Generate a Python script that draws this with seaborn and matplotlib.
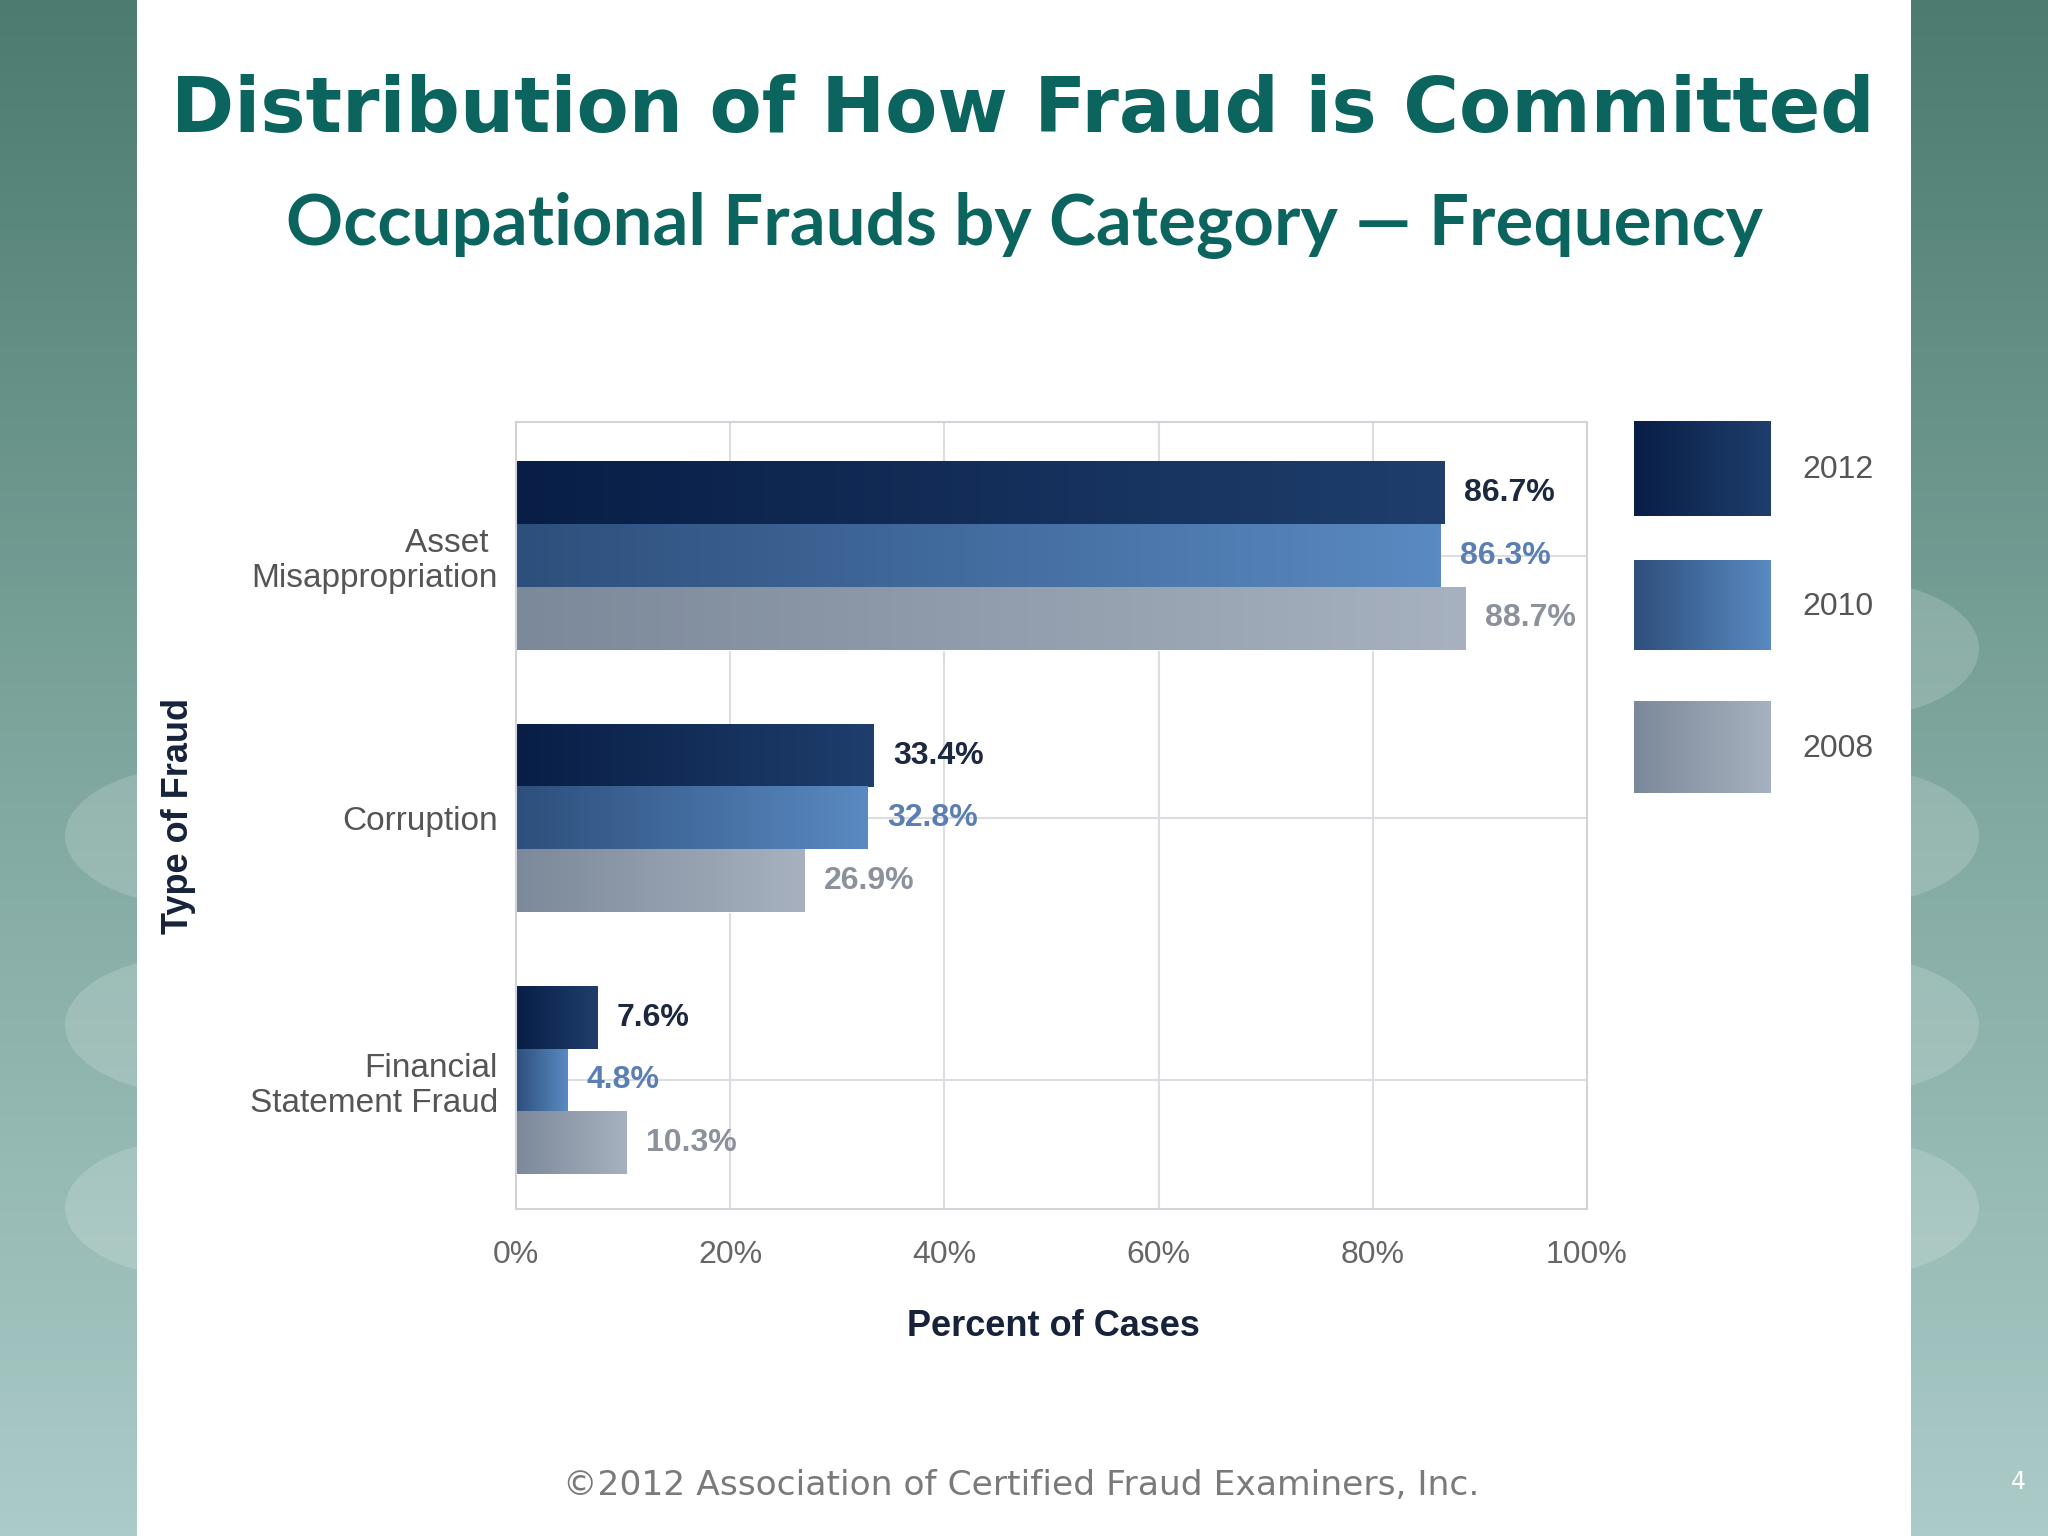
import numpy as np
import pandas as pd
import matplotlib
matplotlib.use("Agg")
import matplotlib.pyplot as plt
from matplotlib.colors import LinearSegmentedColormap
from matplotlib.patches import Ellipse, Rectangle
import seaborn as sns

# data
categories = ["Asset \nMisappropriation", "Corruption", "Financial\nStatement Fraud"]
years = ["2012", "2010", "2008"]
pct_2012 = [86.7, 33.4, 7.6]
pct_2010 = [86.3, 32.8, 4.8]
pct_2008 = [88.7, 26.9, 10.3]
x_ticks = [0, 20, 40, 60, 80, 100]

# left/right colour of each year's gradient, and value label colour
grad_colors = {"2012": ("#081e46", "#1f3e6c"),
               "2010": ("#2d4f7c", "#5a8ac2"),
               "2008": ("#7c899a", "#a7b1bf")}
label_colors = {"2012": "#1b2840", "2010": "#5b7fb3", "2008": "#8b929c"}

df = pd.DataFrame({
    "category": categories * 3,
    "year": [y for y in years for _ in categories],
    "percent": pct_2012 + pct_2010 + pct_2008,
})

sns.set_style("white")
plt.rcParams["font.family"] = ["Liberation Sans", "DejaVu Sans"]

W, H = 2048, 1536
fig = plt.figure(figsize=(W / 100, H / 100), dpi=100)

# slide background: teal side strips with soft ovals, white centre panel
bg = fig.add_axes([0, 0, 1, 1], zorder=-10)
bg.set_xlim(0, W)
bg.set_ylim(H, 0)
bg.axis("off")
side = LinearSegmentedColormap.from_list("side", ["#4c7b6f", "#7fa79f", "#abcbc8"])
bg.imshow(np.linspace(0, 1, 256).reshape(-1, 1), extent=(0, W, H, 0),
          aspect="auto", cmap=side, zorder=0)
for cy in [836, 1025, 1208]:
    bg.add_patch(Ellipse((200, cy), 270, 140, color="white", alpha=0.17, lw=0, zorder=1))
for cy in [649, 836, 1025, 1208]:
    bg.add_patch(Ellipse((1850, cy), 258, 138, color="white", alpha=0.17, lw=0, zorder=1))
bg.add_patch(Rectangle((137, 0), 1774, H, color="white", lw=0, zorder=2))

# legend swatches drawn by hand (large gradient boxes)
sw_boxes = [(421, 516), (560, 650), (701, 793)]
for yr, (top, bottom) in zip(years, sw_boxes):
    cm = LinearSegmentedColormap.from_list(yr, grad_colors[yr])
    bg.imshow(np.linspace(0, 1, 256).reshape(1, -1), extent=(1634, 1771, bottom, top),
              aspect="auto", cmap=cm, zorder=3)
    bg.text(1802, (top + bottom) / 2 + 2, yr, fontsize=23, color="#555555",
            va="center", ha="left", zorder=4)

# main chart
ax = fig.add_axes([0.2520, 0.2129, 0.5229, 0.5124])
sns.barplot(data=df, x="percent", y="category", hue="year", hue_order=years,
            orient="h", width=0.715, saturation=1, legend=False,
            palette={y: grad_colors[y][0] for y in years}, ax=ax)

for yr, cont in zip(years, ax.containers):
    cm = LinearSegmentedColormap.from_list("g" + yr, grad_colors[yr])
    for bar in cont:
        x0, y0 = bar.get_xy()
        ax.imshow(np.linspace(0, 1, 256).reshape(1, -1),
                  extent=(x0, x0 + bar.get_width(), y0 + bar.get_height(), y0),
                  aspect="auto", cmap=cm, zorder=2)
    ax.bar_label(cont, fmt="{:.1f}%", padding=14, color=label_colors[yr],
                 fontweight="bold", fontsize=23, zorder=4)

ax.set_xlim(0, 100)
ax.set_ylim(2.49, -0.51)
ax.set_xticks(x_ticks)
ax.set_xticklabels([f"{t}%" for t in x_ticks])
ax.tick_params(axis="x", length=0, pad=22, labelsize=23, labelcolor="#666666")
ax.tick_params(axis="y", length=0, pad=13, labelsize=24, labelcolor="#555555")
for lab in ax.get_yticklabels():
    lab.set_multialignment("right")
    lab.set_linespacing(1.15)
ax.set_axisbelow(True)
ax.grid(True, color="#dcdde2", lw=1.5)
for sp in ax.spines.values():
    sp.set_visible(True)
    sp.set_color("#d2d3d8")
    sp.set_linewidth(1.5)

ax.set_xlabel("Percent of Cases", fontsize=26, fontweight="bold", color="#17233a")
ax.xaxis.label.set_va("center")
ax.xaxis.set_label_coords(0.502, -0.1487)
ax.set_ylabel("Type of Fraud", fontsize=26, fontweight="bold", color="#17233a")
ax.yaxis.label.set_va("center")
ax.yaxis.set_label_coords(-0.315, 0.4994)

# slide titles and footer
title = fig.text(1023 / W, 1 - 132 / H, "Distribution of How Fraud is Committed",
                 ha="center", va="baseline", fontsize=50, fontweight="bold",
                 color="#0b645e", family="DejaVu Sans")
subtitle = fig.text(1024 / W, 1 - 245 / H, "Occupational Frauds by Category \u2014 Frequency",
                    ha="center", va="baseline", fontsize=50, fontweight="bold",
                    color="#0b645e", family=["Lato", "DejaVu Sans"])
footer = fig.text(1021 / W, 1 - 1495 / H, "\u00a92012 Association of Certified Fraud Examiners, Inc.",
                  ha="center", va="baseline", fontsize=22, color="#7a7a7a",
                  family="DejaVu Sans")
fig.text(2018 / W, 1 - 1489 / H, "4", ha="center", va="baseline", fontsize=17,
         color="white", family="DejaVu Sans")

# scale the slide texts so they span the same width as on the slide
renderer = fig.canvas.get_renderer()
for txt, target in [(title, 1707), (subtitle, 1478), (footer, 914)]:
    w = txt.get_window_extent(renderer).width
    txt.set_fontsize(txt.get_fontsize() * target / w)

fig.savefig("out.png", dpi=100)
